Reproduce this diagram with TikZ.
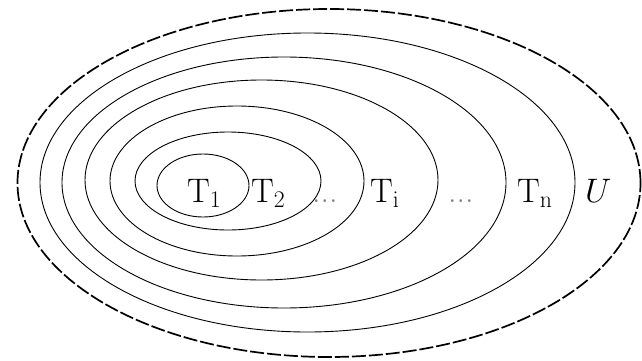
\RequirePackage{fix-cm}
\documentclass[tikz,border=0pt]{standalone}
\begin{document}
\begin{tikzpicture}[x=1pt,y=1pt,
  ring/.style={draw=black,line width=0.9pt},
  outerring/.style={draw=black,line width=1.7pt,dash pattern=on 14pt off 3pt},
  lbl/.style={inner sep=0pt,anchor=base west,font=\fontsize{34pt}{40pt}\selectfont},
  dots/.style={lbl,text=black!50}]
\useasboundingbox (0,0) rectangle (642,360);
% nested sets (image y -> 360 - y)
\draw[ring] (203,174.5) ellipse [x radius=46, y radius=31.5];
\draw[ring] (228,179) ellipse [x radius=93, y radius=49];
\draw[ring] (237,179) ellipse [x radius=127, y radius=75];
\draw[ring] (261.5,180) ellipse [x radius=176.5, y radius=100];
\draw[ring] (284,177.5) ellipse [x radius=222, y radius=125.5];
\draw[ring] (307.5,177.5) ellipse [x radius=267.5, y radius=149.5];
\draw[outerring] (329,177) ellipse [x radius=311.5, y radius=174];
% labels
\node[lbl] (t1) at (187,158) {T$_1$};
\node[lbl] (t2) at (251,158) {T$_2$};
\node[dots] (d1) at (312,158) {...};
\node[lbl] (ti) at (370,158) {T$_{\mathrm{i}}$};
\node[dots] (d2) at (448,158) {...};
\node[lbl] (tn) at (517,158) {T$_{\mathrm{n}}$};
\node[lbl] (u) at (585,158) {$U$};
\end{tikzpicture}
\end{document}
